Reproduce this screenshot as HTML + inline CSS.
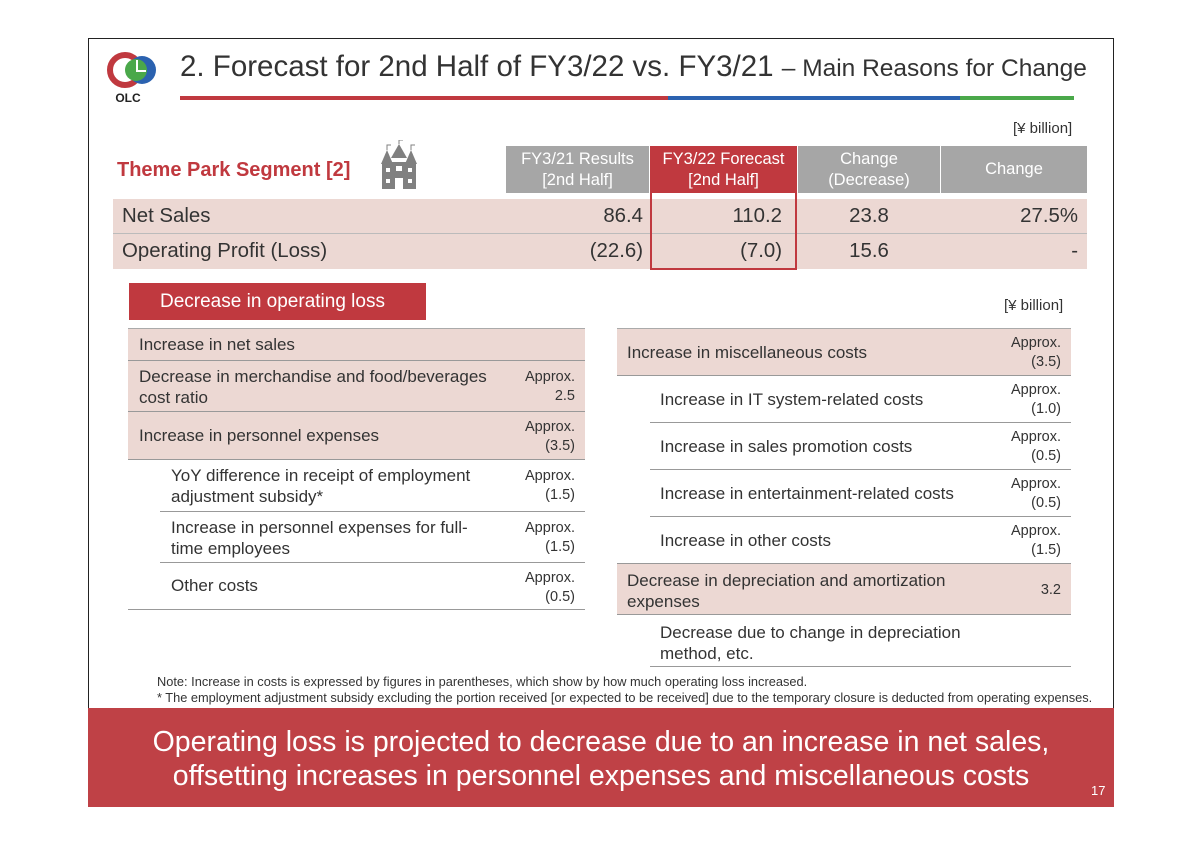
<!DOCTYPE html>
<html><head><meta charset="utf-8"><style>
*{margin:0;padding:0;box-sizing:border-box}
body{width:1200px;height:845px;background:#fff;font-family:"Liberation Sans",Arial,sans-serif;position:relative;overflow:hidden;color:#333}
.a{position:absolute}
.frame{left:88px;top:38px;width:1026px;height:769px;border:1.5px solid #222}
.hd{background:#a6a6a6;color:#fff;font-size:16.5px;text-align:center;line-height:21px;display:flex;align-items:center;justify-content:center}
.row{font-size:20.4px;line-height:34px}
.pk{background:#ecd8d3}
.ln{border-bottom:1.5px solid #999}
.t{font-size:17px;color:#333;white-space:nowrap}
.ap{font-size:14.5px;text-align:right;line-height:19px;color:#333}
</style></head><body>
<div class="a frame"></div>
<svg class="a" style="left:104px;top:50px" width="58" height="56">
<circle cx="21" cy="20" r="15" fill="none" stroke="#c0393f" stroke-width="6"/>
<circle cx="38" cy="20" r="14" fill="#2b62b0"/>
<circle cx="32" cy="20" r="11" fill="#4aa84a"/>
<path d="M33 10 v11 h9" fill="none" stroke="#fff" stroke-width="2"/>
<text x="24" y="52" font-size="12" font-weight="bold" text-anchor="middle" fill="#222" font-family="Liberation Sans">OLC</text>
</svg>
<div class="a" style="left:180px;top:50px;font-size:29.5px;color:#333;white-space:nowrap">2. Forecast for 2nd Half of FY3/22 vs. FY3/21 <span style="font-size:24.5px">– Main Reasons for Change</span></div>
<div class="a" style="left:180px;top:96px;width:488px;height:4px;background:#c0393f"></div>
<div class="a" style="left:668px;top:96px;width:292px;height:4px;background:#2b62b0"></div>
<div class="a" style="left:960px;top:96px;width:114px;height:4px;background:#4aa84a"></div>
<div class="a" style="left:1013px;top:120px;font-size:15px">[¥ billion]</div>
<div class="a" style="left:117px;top:159px;font-size:20px;font-weight:bold;color:#c0393f">Theme Park Segment [2]</div>
<svg class="a" style="left:380px;top:140px" width="38" height="50"><g fill="#808080">
<rect x="2" y="22" width="34" height="27"/><polygon points="1,24 7,10 13,24"/><polygon points="11,18 19,4 27,18"/><polygon points="25,24 31,10 37,24"/>
<path d="M7 10v-5h4M19 4v-4h4M31 10v-5h4" stroke="#808080" fill="none"/>
</g><g fill="#fff"><rect x="6" y="28" width="4" height="4"/><rect x="28" y="28" width="4" height="4"/><rect x="16" y="26" width="6" height="5"/><rect x="6" y="39" width="4" height="4"/><rect x="28" y="39" width="4" height="4"/><rect x="15" y="38" width="8" height="11"/></g></svg>
<div class="a hd" style="left:506px;top:146px;width:143px;height:47px">FY3/21 Results<br>[2nd Half]</div>
<div class="a hd" style="left:650px;top:146px;width:147px;height:47px;background:#c0393f">FY3/22 Forecast<br>[2nd Half]</div>
<div class="a hd" style="left:798px;top:146px;width:142px;height:47px">Change<br>(Decrease)</div>
<div class="a hd" style="left:941px;top:146px;width:146px;height:47px">Change</div>
<div class="a pk row" style="left:113px;top:199px;width:974px;height:35px;border-bottom:1.5px solid #bbb"></div>
<div class="a pk row" style="left:113px;top:234px;width:974px;height:35px"></div>
<div class="a row" style="left:122px;top:199px">Net Sales</div>
<div class="a row" style="left:122px;top:234px">Operating Profit (Loss)</div>
<div class="a row" style="left:506px;top:199px;width:137px;text-align:right">86.4</div>
<div class="a row" style="left:650px;top:199px;width:132px;text-align:right">110.2</div>
<div class="a row" style="left:798px;top:199px;width:142px;text-align:center">23.8</div>
<div class="a row" style="left:941px;top:199px;width:137px;text-align:right">27.5%</div>
<div class="a row" style="left:506px;top:234px;width:137px;text-align:right">(22.6)</div>
<div class="a row" style="left:650px;top:234px;width:132px;text-align:right">(7.0)</div>
<div class="a row" style="left:798px;top:234px;width:142px;text-align:center">15.6</div>
<div class="a row" style="left:941px;top:234px;width:137px;text-align:right">-</div>
<div class="a" style="left:650px;top:146px;width:147px;height:124px;border:2.5px solid #c0393f"></div>

<div class="a" style="left:129px;top:283px;width:297px;height:37px;background:#c0393f;color:#fff;font-size:19px;line-height:37px;padding-left:31px;white-space:nowrap">Decrease in operating loss</div>
<div class="a" style="left:1004px;top:297px;font-size:15px">[¥ billion]</div>

<div class="a" style="left:128px;top:328px;width:457px;border-top:1.5px solid #aaa"></div>
<div class="a pk ln" style="left:128px;top:329px;width:457px;height:32px"></div>
<div class="a pk ln" style="left:128px;top:361px;width:457px;height:51px"></div>
<div class="a pk ln" style="left:128px;top:412px;width:457px;height:48px"></div>
<div class="a ln" style="left:160px;top:460px;width:425px;height:52px"></div>
<div class="a ln" style="left:160px;top:512px;width:425px;height:51px"></div>
<div class="a ln" style="left:128px;top:563px;width:457px;height:47px"></div>
<div class="a t" style="left:139px;top:335px">Increase in net sales</div>
<div class="a t" style="left:139px;top:366px;line-height:21px">Decrease in merchandise and food/beverages<br>cost ratio</div>
<div class="a ap" style="left:500px;top:368px;width:75px">Approx.<br>2.5</div>
<div class="a t" style="left:139px;top:426px">Increase in personnel expenses</div>
<div class="a ap" style="left:500px;top:418px;width:75px">Approx.<br>(3.5)</div>
<div class="a t" style="left:171px;top:465px;line-height:21px">YoY difference in receipt of employment<br>adjustment subsidy*</div>
<div class="a ap" style="left:500px;top:467px;width:75px">Approx.<br>(1.5)</div>
<div class="a t" style="left:171px;top:517px;line-height:21px">Increase in personnel expenses for full-<br>time employees</div>
<div class="a ap" style="left:500px;top:519px;width:75px">Approx.<br>(1.5)</div>
<div class="a t" style="left:171px;top:576px">Other costs</div>
<div class="a ap" style="left:500px;top:569px;width:75px">Approx.<br>(0.5)</div>

<div class="a" style="left:617px;top:328px;width:454px;border-top:1.5px solid #aaa"></div>
<div class="a pk ln" style="left:617px;top:329px;width:454px;height:47px"></div>
<div class="a ln" style="left:650px;top:376px;width:421px;height:47px"></div>
<div class="a ln" style="left:650px;top:423px;width:421px;height:47px"></div>
<div class="a ln" style="left:650px;top:470px;width:421px;height:47px"></div>
<div class="a ln" style="left:617px;top:517px;width:454px;height:47px"></div>
<div class="a pk ln" style="left:617px;top:564px;width:454px;height:51px"></div>
<div class="a ln" style="left:650px;top:615px;width:421px;height:52px"></div>
<div class="a t" style="left:627px;top:343px">Increase in miscellaneous costs</div>
<div class="a ap" style="left:985px;top:334px;width:76px">Approx.<br>(3.5)</div>
<div class="a t" style="left:660px;top:390px">Increase in IT system-related costs</div>
<div class="a ap" style="left:985px;top:381px;width:76px">Approx.<br>(1.0)</div>
<div class="a t" style="left:660px;top:437px">Increase in sales promotion costs</div>
<div class="a ap" style="left:985px;top:428px;width:76px">Approx.<br>(0.5)</div>
<div class="a t" style="left:660px;top:484px">Increase in entertainment-related costs</div>
<div class="a ap" style="left:985px;top:475px;width:76px">Approx.<br>(0.5)</div>
<div class="a t" style="left:660px;top:531px">Increase in other costs</div>
<div class="a ap" style="left:985px;top:522px;width:76px">Approx.<br>(1.5)</div>
<div class="a t" style="left:627px;top:570px;line-height:21px">Decrease in depreciation and amortization<br>expenses</div>
<div class="a ap" style="left:985px;top:581px;width:76px">3.2</div>
<div class="a t" style="left:660px;top:622px;line-height:21px">Decrease due to change in depreciation<br>method, etc.</div>

<div class="a" style="left:157px;top:674px;font-size:12.8px;line-height:16px;color:#333;white-space:nowrap">Note: Increase in costs is expressed by figures in parentheses, which show by how much operating loss increased.<br>* The employment adjustment subsidy excluding the portion received [or expected to be received] due to the temporary closure is deducted from operating expenses.</div>

<div class="a" style="left:88px;top:708px;width:1026px;height:99px;background:#bf4146"></div>
<div class="a" style="left:88px;top:725px;width:1026px;text-align:center;color:#fff;font-size:28.5px;line-height:34px;white-space:nowrap">Operating loss is projected to decrease due to an increase in net sales,<br>offsetting increases in personnel expenses and miscellaneous costs</div>
<div class="a" style="left:1091px;top:783px;color:#fff;font-size:13px">17</div>
</body></html>
